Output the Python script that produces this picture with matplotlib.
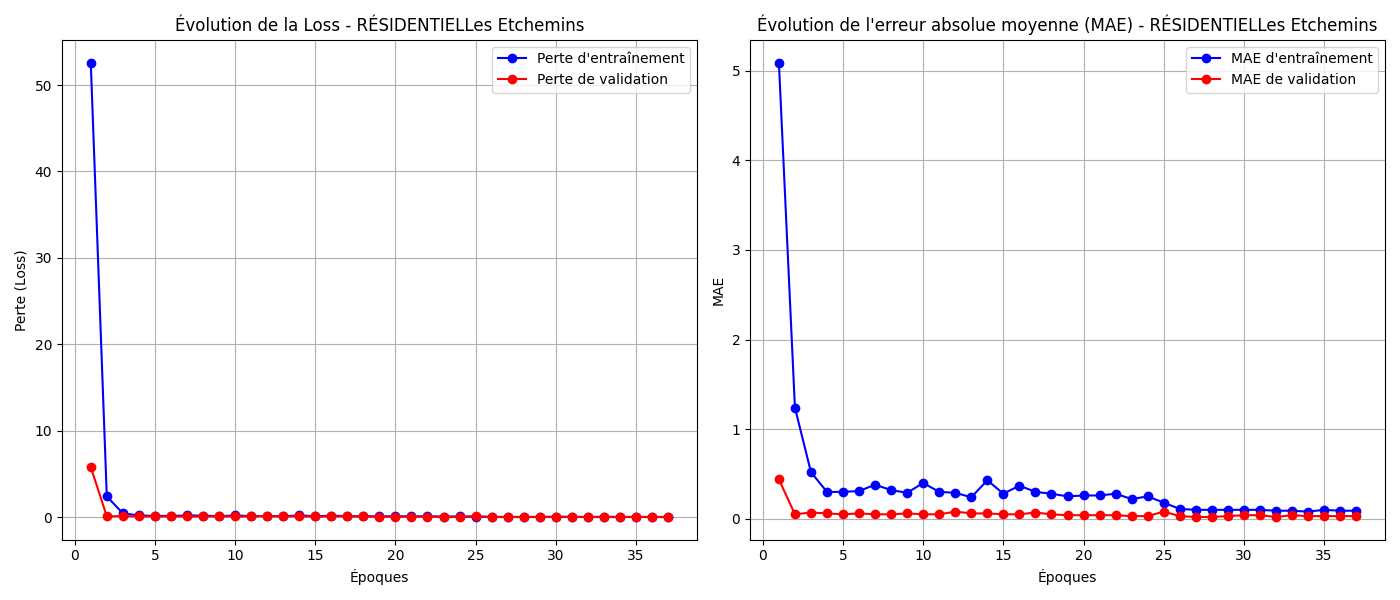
import numpy as np
import matplotlib.pyplot as plt

epochs = list(range(1, 38))
train_loss = [52.6, 2.4, 0.45, 0.2, 0.15, 0.15, 0.2, 0.18, 0.12, 0.2, 0.12, 0.13, 0.1, 0.22, 0.1, 0.18, 0.12, 0.1, 0.09, 0.1, 0.09, 0.1, 0.07, 0.08, 0.05,
              0.03, 0.03, 0.03, 0.03, 0.03, 0.03, 0.02, 0.02, 0.02, 0.03, 0.02, 0.02]
val_loss = [5.8, 0.1, 0.12, 0.1, 0.08, 0.1, 0.08, 0.08, 0.1, 0.08, 0.08, 0.15, 0.1, 0.1, 0.08, 0.08, 0.12, 0.08, 0.06, 0.06, 0.06, 0.06, 0.04, 0.04, 0.12,
            0.03, 0.02, 0.02, 0.03, 0.05, 0.05, 0.02, 0.05, 0.03, 0.03, 0.03, 0.03]
train_mae = [5.09, 1.24, 0.52, 0.30, 0.30, 0.31, 0.38, 0.32, 0.29, 0.40, 0.30, 0.29, 0.24, 0.43, 0.28, 0.37, 0.30, 0.28, 0.25, 0.26, 0.26, 0.28, 0.22,
             0.25, 0.18, 0.11, 0.10, 0.10, 0.10, 0.10, 0.10, 0.09, 0.09, 0.08, 0.10, 0.09, 0.09]
val_mae = [0.44, 0.05, 0.07, 0.06, 0.05, 0.06, 0.05, 0.05, 0.06, 0.05, 0.05, 0.08, 0.06, 0.06, 0.05, 0.05, 0.07, 0.05, 0.04, 0.04, 0.04, 0.04, 0.03,
           0.03, 0.08, 0.03, 0.02, 0.02, 0.03, 0.04, 0.04, 0.02, 0.04, 0.03, 0.03, 0.03, 0.03]

fig, (ax1, ax2) = plt.subplots(1, 2, figsize=(14, 6))

ax1.plot(epochs, train_loss, 'bo-', label="Perte d'entraînement")
ax1.plot(epochs, val_loss, 'ro-', label="Perte de validation")
ax1.set_title("Évolution de la Loss - RÉSIDENTIELLes Etchemins")
ax1.set_xlabel("Époques")
ax1.set_ylabel("Perte (Loss)")
ax1.legend()
ax1.grid(True)

ax2.plot(epochs, train_mae, 'bo-', label="MAE d'entraînement")
ax2.plot(epochs, val_mae, 'ro-', label="MAE de validation")
ax2.set_title("Évolution de l'erreur absolue moyenne (MAE) - RÉSIDENTIELLes Etchemins")
ax2.set_xlabel("Époques")
ax2.set_ylabel("MAE")
ax2.legend()
ax2.grid(True)

plt.tight_layout()
plt.savefig("out.png", dpi=100)
